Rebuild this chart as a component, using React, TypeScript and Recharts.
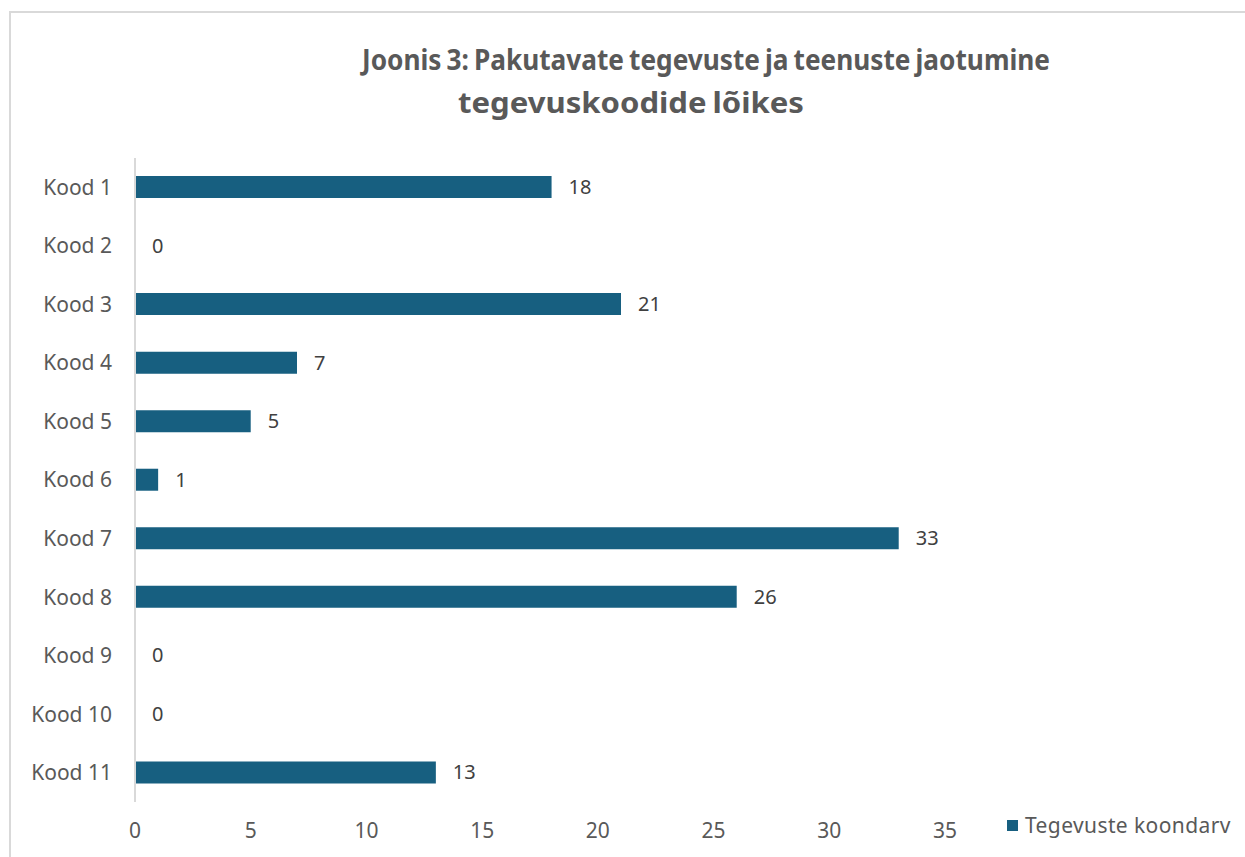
import { Bar, BarChart, LabelList, XAxis, YAxis } from "recharts";

const categories = ["Kood 1", "Kood 2", "Kood 3", "Kood 4", "Kood 5", "Kood 6", "Kood 7", "Kood 8", "Kood 9", "Kood 10", "Kood 11"];
const counts = [18, 0, 21, 7, 5, 1, 33, 26, 0, 0, 13];
const xTicks = [0, 5, 10, 15, 20, 25, 30, 35];
const titleLines = ["Joonis 3: Pakutavate tegevuste ja teenuste jaotumine", "tegevuskoodide lõikes"];
const seriesName = "Tegevuste koondarv";

const BAR_COLOR = "#175f80";
const TEXT = "#595959";
const FONT = "'Noto Sans', sans-serif";

const data = categories.map((name, i) => ({ name, value: counts[i] }));

// value label, drawn for zero-length bars too
const ValueLabel = (props: any) => {
  const { x, y, width, height, value } = props;
  return (
    <text x={x + width + 17} y={y + height / 2} dy="0.35em" fill="#404040" fontSize={20} fontFamily={FONT}>
      {value}
    </text>
  );
};

export default function App() {
  return (
    <div style={{ position: "fixed", left: 0, top: 0, width: 1245, height: 857, overflow: "hidden", background: "#fff" }}>
      <div
        style={{
          position: "absolute",
          left: 9,
          top: 11,
          width: 1300,
          height: 900,
          border: "2px solid #d9d9d9",
        }}
      />
      <svg width={1245} height={140} style={{ position: "absolute", left: 0, top: 0 }}>
        <text
          x={362}
          y={70}
          fontFamily={FONT}
          fontWeight="bold"
          fontSize={29}
          fill={TEXT}
          style={{ wordSpacing: -2 }}
          textLength={688}
          lengthAdjust="spacingAndGlyphs"
        >
          {titleLines[0]}
        </text>
        <text x={458} y={113} fontFamily={FONT} fontWeight="bold" fontSize={29} fill={TEXT} style={{ wordSpacing: -2 }} textLength={346} lengthAdjust="spacingAndGlyphs">
          {titleLines[1]}
        </text>
      </svg>
      <div style={{ position: "absolute", left: 0, top: 0 }}>
        <BarChart
          width={1245}
          height={857}
          data={data}
          layout="vertical"
          margin={{ top: 158, right: 300, bottom: 0, left: 0 }}
          style={{ fontFamily: FONT }}
        >
          <XAxis
            type="number"
            domain={[0, 35]}
            ticks={xTicks}
            axisLine={false}
            tickLine={false}
            tickSize={0}
            tickMargin={21}
            height={55}
            tick={{ fill: TEXT, fontSize: 21 }}
          />
          <YAxis
            type="category"
            dataKey="name"
            width={135}
            axisLine={{ stroke: "#d9d9d9", strokeWidth: 2 }}
            tickLine={false}
            tickSize={0}
            tickMargin={23}
            tick={{ fill: TEXT, fontSize: 21 }}
          />
          <Bar dataKey="value" name={seriesName} fill={BAR_COLOR} barSize={22} minPointSize={0.01} isAnimationActive={false}>
            <LabelList dataKey="value" content={ValueLabel} />
          </Bar>
        </BarChart>
      </div>
      <div
        style={{
          position: "absolute",
          left: 1007,
          top: 811,
          display: "flex",
          alignItems: "center",
          fontFamily: FONT,
          fontSize: 21,
          letterSpacing: 0.4,
          color: TEXT,
          whiteSpace: "nowrap",
        }}
      >
        <span style={{ display: "inline-block", width: 11, height: 11, background: BAR_COLOR, marginRight: 7 }} />
        {seriesName}
      </div>
    </div>
  );
}
